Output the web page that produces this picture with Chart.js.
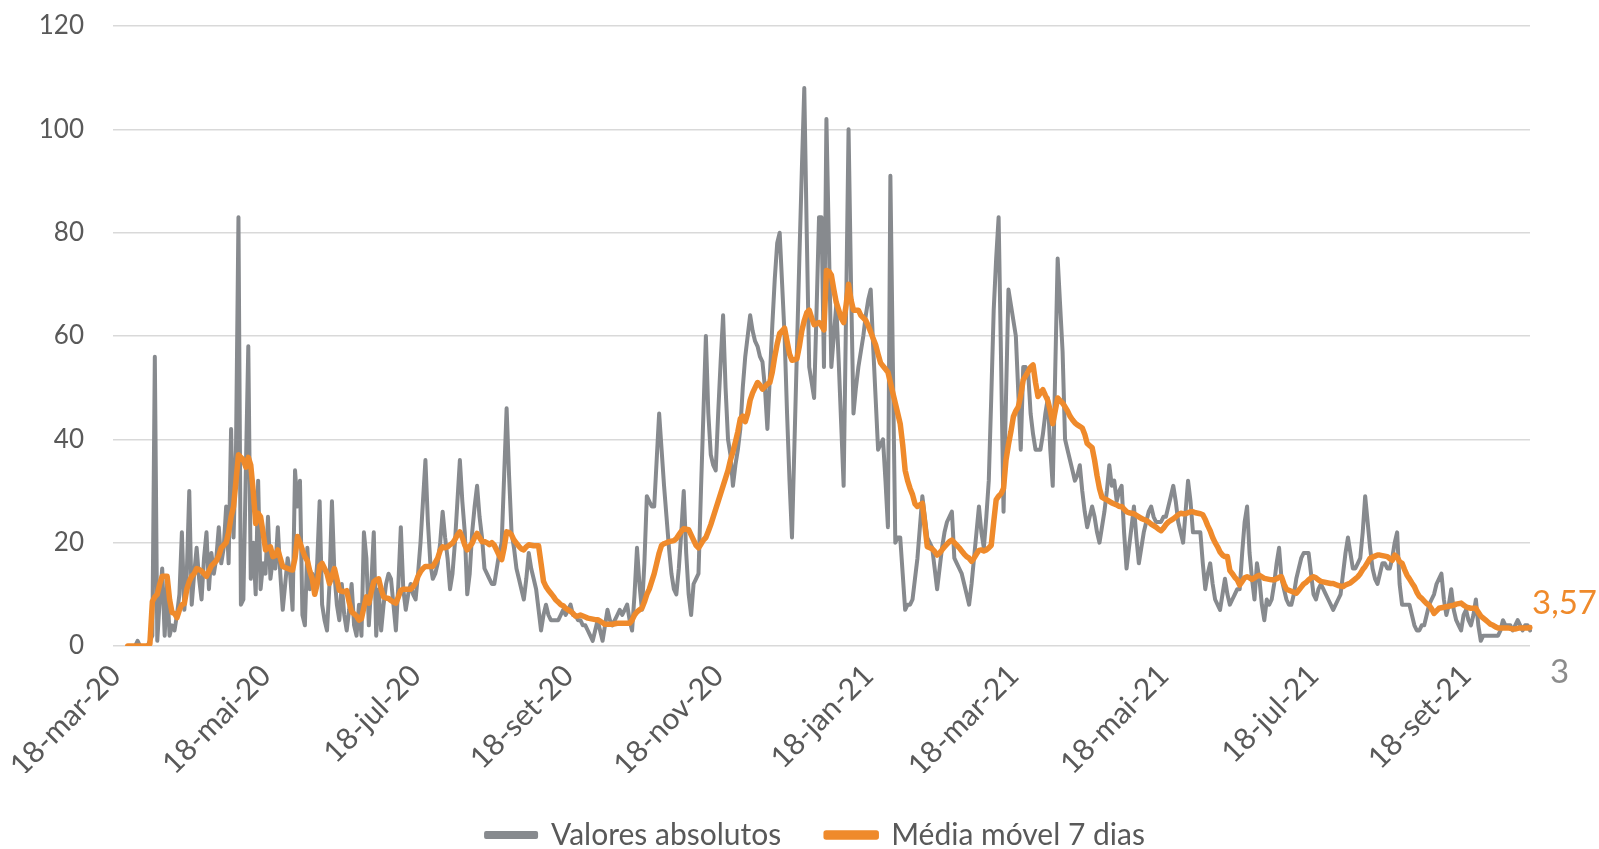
<!DOCTYPE html>
<html lang="pt">
<head>
<meta charset="utf-8">
<title>Valores absolutos e média móvel 7 dias</title>
<script src="https://cdn.jsdelivr.net/npm/chart.js@4.4.1/dist/chart.umd.min.js"></script>
<style>
  html, body { margin: 0; padding: 0; background: #ffffff; }
  #caixa { width: 1599px; height: 849px; position: relative; }
</style>
</head>
<body>
<div id="caixa"><canvas id="grafico"></canvas></div>
<script>
// Datas diárias (categorias): o eixo começa 6 dias antes do primeiro registo
const meses = ['jan', 'fev', 'mar', 'abr', 'mai', 'jun', 'jul', 'ago', 'set', 'out', 'nov', 'dez'];
const inicioEixo = Date.UTC(2020, 2, 12);
const diasVazios = 6;

// Rótulos visíveis no eixo X
const rotulosEixo = [
  '18-mar-20', '18-mai-20', '18-jul-20', '18-set-20', '18-nov-20',
  '18-jan-21', '18-mar-21', '18-mai-21', '18-jul-21', '18-set-21'
];

// Valores absolutos diários, de 18-mar-20 a 9-out-21
const valoresAbsolutos = [
  0,0,0,0,1,0,0,0,0,1,
  2,56,1,9,15,2,12,2,4,3,
  6,10,22,7,14,30,8,14,19,13,
  9,17,22,11,18,14,17,23,16,19,
  27,16,42,21,38,83,8,9,34,58,
  13,20,10,32,11,16,14,25,13,17,
  15,23,14,7,12,17,14,7,34,27,
  32,6,4,19,11,14,10,16,28,8,
  5,3,12,28,14,8,5,12,6,3,
  7,12,4,2,8,2,22,17,4,12,
  22,2,11,3,8,12,14,13,8,3,
  12,23,11,7,10,12,10,9,14,20,
  28,36,24,16,13,14,16,20,26,21,
  17,11,14,20,28,36,28,22,10,14,
  22,27,31,25,21,15,14,13,12,12,
  15,18,20,33,46,33,22,19,15,13,
  11,9,13,18,15,13,11,7,3,6,
  8,6,5,5,5,5,6,7,6,7,
  8,6,6,5,5,4,4,3,2,1,
  3,5,3,1,4,7,5,4,5,6,
  7,6,7,8,5,3,10,19,12,7,
  16,29,28,27,27,36,45,38,31,25,
  19,14,11,10,15,22,30,18,10,6,
  12,13,14,30,45,60,45,37,35,34,
  45,55,64,50,40,37,31,35,38,42,
  50,56,60,64,61,59,58,56,55,50,
  42,52,62,71,78,80,70,60,45,32,
  21,39,57,75,92,108,80,54,51,48,
  65,83,83,54,102,78,54,60,66,55,
  43,31,65,100,70,45,50,54,57,60,
  64,67,69,58,48,38,39,40,32,23,
  91,55,20,21,21,14,7,8,8,9,
  13,17,23,29,25,21,20,19,15,11,
  15,19,22,24,25,26,17,16,15,14,
  12,10,8,12,17,22,27,22,19,25,
  32,48,65,75,83,55,26,48,69,66,
  63,60,49,38,54,54,53,45,41,38,
  38,38,41,45,48,38,31,53,75,66,
  57,40,38,36,34,32,33,35,30,26,
  23,25,27,25,22,20,23,26,30,35,
  31,32,28,30,31,22,15,19,23,27,
  21,16,19,22,24,26,27,25,24,24,
  24,25,25,27,29,31,28,24,22,20,
  26,32,28,22,22,22,22,16,11,14,
  16,12,9,8,7,10,13,10,8,9,
  10,11,11,18,24,27,18,13,9,16,
  13,8,5,9,8,9,12,16,19,13,
  11,9,8,8,10,13,15,17,18,18,
  18,14,10,9,11,12,11,10,9,8,
  7,8,9,10,14,18,21,18,15,15,
  16,17,22,29,24,19,15,13,12,14,
  16,16,15,15,17,20,22,12,8,8,
  8,8,6,4,3,3,4,4,6,8,
  9,10,12,13,14,9,6,8,11,7,
  5,4,3,6,7,5,4,6,9,4,
  1,2,2,2,2,2,2,2,3,5,
  4,4,4,3,4,5,4,3,4,4,3
];

// Média móvel 7 dias, mesmas datas
const mediaMovel = [
  0,0,0,0,0,0,0,0,0,0.4,
  8.6,9.5,10,12,13.5,13.5,13.5,9,6.5,6.3,
  5.5,7,8,8.2,11,12.5,13.5,14,15,14.8,
  14.5,14,13.5,14.5,15.5,16,16.5,17.5,19,19.5,
  20,22,25,27,32,37,36.5,36,34.6,36.5,
  35,30,23.7,25.7,25,22,18.6,19,19.2,17.3,
  17.5,18.6,17,15.4,15.2,15,14.8,14.7,17,21.2,
  20,18.6,17.3,16.5,14.5,13,10,12,15.5,16,
  15,14,12.1,13.5,15,13,10.8,10.6,10.5,10.7,
  8.5,6.6,6.2,5.8,5,5.3,7.5,9.5,8.3,10.5,
  12.4,12.8,13,11,9.5,9.3,9.2,8.8,8.5,8.3,
  9.5,10.8,11,11,11,11,11.5,12.2,13.5,14.4,
  15,15.4,15.4,15.4,15.4,16.2,17,18.5,19.2,19,
  19.2,19.6,19.9,20.6,21.5,22.1,21,19.5,18.6,19.3,
  19.9,21,21.8,21,20.2,20.2,20,19.6,20,19.5,
  18.5,17.5,16.7,19,22.1,22,21.5,20.5,19.9,19.3,
  18.8,18.6,19.2,19.6,19.5,19.4,19.4,19.4,16,12.5,
  11.5,10.8,10.2,9.6,8.9,8.5,8,7.8,7.3,7,
  6.7,6.3,5.8,5.8,6,5.8,5.6,5.4,5.3,5.2,
  5.1,5.1,4.8,4.5,4.2,4.2,4.2,4.2,4.3,4.4,
  4.4,4.4,4.4,4.4,4.4,5,6,6.6,7,7.3,
  8.5,10,11,12.5,14,16,18,19.5,19.8,20,
  20.2,20.3,20.4,20.8,21.5,22.2,22.7,22.6,22.5,21.5,
  20.5,19.5,19,19.7,20.5,21,22.2,23.5,25,26.5,
  28,29.5,31,32.5,34,36,37.6,39.5,41.5,44,
  44.5,43.4,45,47.6,49,50,51,50.5,49.7,50.2,
  50.7,51,53,56,58.5,60.5,61,61.5,59,56.5,
  55.3,55.4,55.6,58,61,63,64.5,65,63.5,62.2,
  62.4,62.6,62,61.2,72.7,72.5,71.8,69,66.5,65,
  63.5,62.6,66,70,67,65,65,65,64,63.5,
  63,62,60.8,59.5,58.3,56.5,54.8,54.2,53.6,53,
  51,49,47,45,43,39,34,32,30.5,29.3,
  27.5,27,27.3,27.6,23.5,19.2,19,18.8,18.3,17.6,
  18,18.6,19.2,19.7,20.2,20.5,20,19.5,19,18.4,
  17.8,17.3,17,16.4,17,17.8,18.5,18.6,18.4,18.6,
  19,19.5,24,28.3,29,29.5,30.5,36,39,41.5,
  44.4,45.5,46.3,48.5,51.5,52.3,53.1,54,54.4,51,
  48.3,49,49.6,48.5,47.5,45.5,43,45.5,48,47.5,
  47,46.3,45.5,44.5,43.8,43.2,42.8,42.5,42.2,41,
  39.2,38.8,38.4,36,33,30.5,28.8,28.5,28.3,28,
  27.7,27.5,27.3,27,27,26.5,26,25.8,25.7,25.6,
  25.3,25,24.7,24.5,24.3,24,23.6,23.3,23,22.6,
  22.3,22.8,23.5,24,24.3,24.6,25,25.4,25.7,25.6,
  25.6,25.8,26,26,25.8,25.7,25.6,25.4,24.5,23.3,
  22.3,21,20,19.2,18.2,17.6,17.3,17.3,14.6,14,
  13.3,12.8,11.8,12.5,13.2,13.4,13.2,12.9,13.2,13.5,
  13.7,13.4,13.1,13,12.9,12.8,12.8,13,13.3,13.4,
  12,11,10.8,10.6,10.4,10.2,10.8,11.4,12,12.3,
  12.8,13.2,13.4,13.2,12.8,12.5,12.4,12.3,12.2,12.1,
  12.1,11.9,11.7,11.6,11.5,11.8,12,12.2,12.6,13,
  13.4,14,14.8,15.4,16.2,17,17.2,17.4,17.6,17.6,
  17.5,17.4,17.3,16.9,16.6,17.6,17.2,16.3,16,14.8,
  13.7,13,12.2,11.5,10.4,9.6,9.2,8.7,8.2,7.9,
  7.2,6.3,6.8,7.3,7.4,7.5,7.6,7.7,7.8,7.9,
  8.1,8.2,8.3,7.9,7.6,7.4,7.3,7.3,7.3,6.5,
  5.8,5.4,5,4.6,4.2,4,3.7,3.5,3.5,3.5,
  3.5,3.5,3.4,3.3,3.3,3.4,3.5,3.5,3.5,3.5,3.57
];

// Construir as datas do eixo
const datas = [];
for (let i = 0; i < diasVazios + valoresAbsolutos.length; i++) {
  const d = new Date(inicioEixo + i * 86400000);
  const aa = String(d.getUTCFullYear()).slice(2);
  datas.push(d.getUTCDate() + '-' + meses[d.getUTCMonth()] + '-' + aa);
}
const vazios = new Array(diasVazios).fill(null);

const cinza = '#878a8e';
const laranja = '#ef8a2b';
const corTexto = '#595959';

// Rótulo do último valor de cada série (à direita do gráfico)
const rotulosFinais = {
  id: 'rotulosFinais',
  afterDatasetsDraw(chart) {
    const ctx = chart.ctx;
    chart.data.datasets.forEach((ds, i) => {
      const meta = chart.getDatasetMeta(i);
      const ponto = meta.data[meta.data.length - 1];
      const valor = ds.data[ds.data.length - 1];
      ctx.save();
      ctx.font = '33px Lato';
      ctx.fillStyle = ds.rotulo.cor;
      ctx.textBaseline = 'middle';
      ctx.textAlign = 'left';
      ctx.fillText(String(valor).replace('.', ','), ponto.x + ds.rotulo.dx, ponto.y + ds.rotulo.dy);
      ctx.restore();
    });
  }
};

// Legenda centrada sob a área do gráfico, como no original
const moverLegenda = {
  id: 'moverLegenda',
  afterLayout(chart) {
    const leg = chart.legend;
    if (!leg) return;
    leg.left += 16;
    leg.right += 16;
    leg.top += 2;
    leg.bottom += 2;
  }
};

const ctx = document.getElementById('grafico').getContext('2d');
new Chart(ctx, {
  type: 'line',
  data: {
    labels: datas,
    datasets: [
      {
        label: 'Valores absolutos',
        data: vazios.concat(valoresAbsolutos),
        borderColor: cinza,
        backgroundColor: cinza,
        borderWidth: 4,
        order: 1,
        rotulo: { cor: '#8c8c8c', dx: 20, dy: 42 }
      },
      {
        label: 'Média móvel 7 dias',
        data: vazios.concat(mediaMovel),
        borderColor: laranja,
        backgroundColor: laranja,
        borderWidth: 5.5,
        order: 0,
        rotulo: { cor: laranja, dx: 2, dy: -24 }
      }
    ]
  },
  options: {
    responsive: true,
    maintainAspectRatio: false,
    animation: false,
    layout: { padding: { top: 26, right: 0, bottom: -9, left: 0 } },
    elements: {
      point: { radius: 0, hoverRadius: 0 },
      line: { tension: 0, borderJoinStyle: 'round', borderCapStyle: 'round' }
    },
    plugins: {
      legend: {
        position: 'bottom',
        labels: {
          boxWidth: 50,
          boxHeight: 4,
          padding: 45,
          color: corTexto,
          font: { family: 'Lato', size: 30 },
          sort: (a, b) => a.datasetIndex - b.datasetIndex
        }
      },
      tooltip: { enabled: false }
    },
    scales: {
      x: {
        type: 'category',
        offset: false,
        grid: { display: false },
        border: { display: false },
        afterFit: (escala) => { escala.height = 127; },
        ticks: {
          autoSkip: false,
          maxRotation: 45,
          minRotation: 45,
          padding: 4,
          labelOffset: -12,
          color: corTexto,
          font: { family: 'Lato', size: 30 },
          callback: function (valor) {
            const l = this.getLabelForValue(valor);
            return rotulosEixo.includes(l) ? l : null;
          }
        }
      },
      y: {
        min: 0,
        max: 120,
        afterFit: (escala) => { escala.width = 113; },
        grid: { color: '#d9d9d9', lineWidth: 1.5, drawTicks: true, tickLength: 29, tickColor: 'rgba(0,0,0,0)' },
        border: { display: false },
        ticks: {
          stepSize: 20,
          padding: 0,
          color: corTexto,
          font: { family: 'Lato', size: 26 }
        }
      },
      // eixo vazio à direita: reserva espaço para os rótulos finais
      direita: {
        position: 'right',
        grid: { display: false },
        border: { display: false },
        ticks: { display: false },
        afterFit: (escala) => { escala.width = 69; }
      }
    }
  },
  plugins: [rotulosFinais, moverLegenda]
});
</script>
</body>
</html>
